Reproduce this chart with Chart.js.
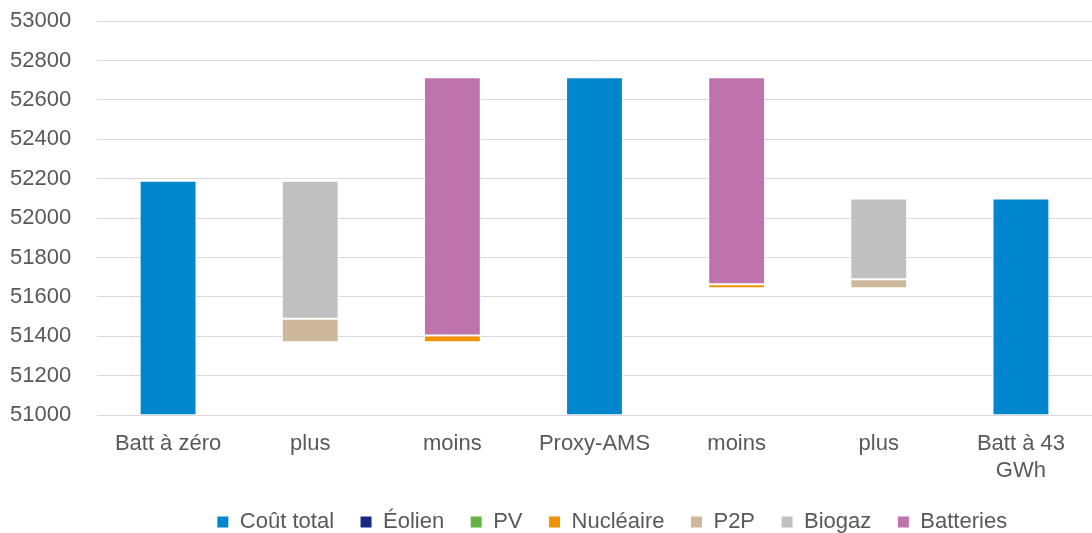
<!DOCTYPE html>
<html>
<head>
<meta charset="utf-8">
<script src="https://cdn.jsdelivr.net/npm/chart.js@4/dist/chart.umd.min.js"></script>
<style>
body { margin: 0; background: #fff; }
#wrap { width: 1092px; height: 533px; }
</style>
</head>
<body>
<div id="wrap"><canvas id="chart"></canvas></div>
<script>
// categories
const labels = ['Batt à zéro', 'plus', 'moins', 'Proxy-AMS', 'moins', 'plus', ['Batt à 43', 'GWh']];

// floating bars [bottom, top] per category, null = nothing drawn
const coutTotal = [[51000, 52190], null, null, [51000, 52715], null, null, [51000, 52100]];
const eolien = [null, null, null, null, null, null, null];
const pv = [null, null, null, null, null, null, null];
const nucleaire = [null, null, [51370, 51405], null, [51645, 51665], null, null];
const p2p = [null, [51370, 51490], null, null, null, [51645, 51690], null];
const biogaz = [null, [51490, 52190], null, null, null, [51690, 52100], null];
const batteries = [null, null, [51405, 52715], null, [51665, 52715], null, null];

const yTicks = { min: 51000, max: 53000, step: 200 };

const font = { family: "'Liberation Sans', Arial, sans-serif", size: 22 };
const textColor = '#595959';

function ds(label, data, color) {
  return {
    label,
    data,
    backgroundColor: color,
    borderColor: '#ffffff',
    borderWidth: 1,
    borderSkipped: false,
    categoryPercentage: 1,
    barPercentage: 0.4,
  };
}

// nudge the legend: it sits right of centre and close to the bottom edge
const legendShift = {
  id: 'legendShift',
  afterLayout(chart) {
    const lg = chart.legend;
    lg.left += 61; lg.right += 61;
    lg.top -= 7; lg.bottom -= 7;
  },
};

new Chart(document.getElementById('chart'), {
  type: 'bar',
  data: {
    labels,
    datasets: [
      ds('Coût total', coutTotal, '#0086CD'),
      ds('Éolien', eolien, '#172983'),
      ds('PV', pv, '#64B441'),
      ds('Nucléaire', nucleaire, '#F39200'),
      ds('P2P', p2p, '#CDB89C'),
      ds('Biogaz', biogaz, '#C0C0C0'),
      ds('Batteries', batteries, '#BE73AD'),
    ],
  },
  plugins: [legendShift],
  options: {
    responsive: true,
    maintainAspectRatio: false,
    animation: false,
    layout: { padding: { left: 10, right: 0, top: 10, bottom: -17 } },
    scales: {
      x: {
        stacked: true,
        grid: { display: false },
        border: { display: false },
        ticks: { font, color: textColor, maxRotation: 0, padding: 8 },
      },
      y: {
        stacked: false,
        min: yTicks.min,
        max: yTicks.max,
        grid: { color: '#D9D9D9', lineWidth: 1, drawTicks: false },
        border: { display: false },
        afterFit: (scale) => { scale.width = 87; },
        ticks: {
          stepSize: yTicks.step,
          font,
          color: textColor,
          padding: 8,
          crossAlign: 'far',
          callback: (v) => String(v),
        },
      },
    },
    plugins: {
      legend: {
        position: 'bottom',
        labels: {
          font,
          color: textColor,
          boxWidth: 12,
          boxHeight: 12,
          padding: 26,
        },
      },
      tooltip: { enabled: false },
    },
  },
});
</script>
</body>
</html>
